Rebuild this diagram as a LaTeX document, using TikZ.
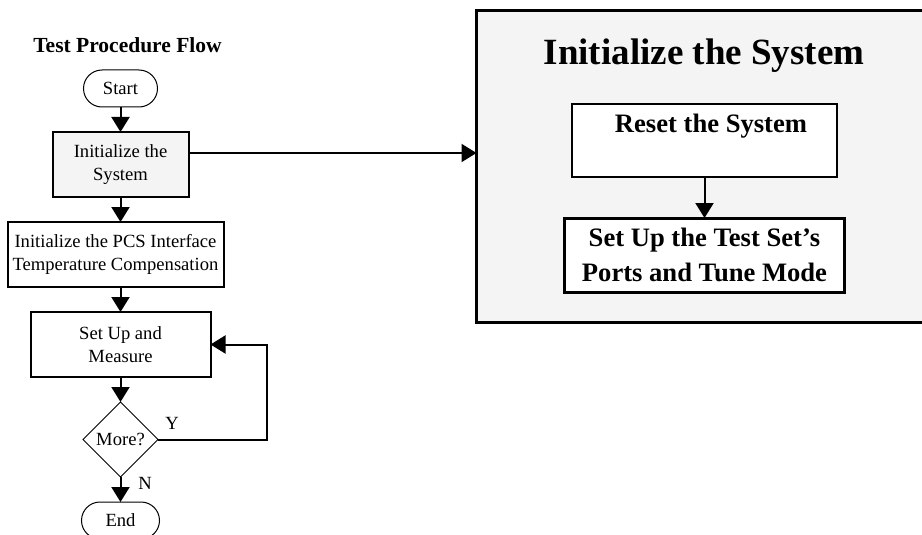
\documentclass[tikz,border=0pt]{standalone}
\usepackage{fontspec}
\setmainfont{Liberation Serif}
\usepackage{tikz}
\usetikzlibrary{arrows.meta, positioning, shapes.geometric, shapes.misc}
\definecolor{panelgray}{RGB}{244,244,244}

\begin{document}
\begin{tikzpicture}[
  x=1pt, y=-1pt,
  node distance=25pt,
  every node/.append style={outer sep=0pt},
  term/.style={draw, line width=1pt, rounded rectangle, minimum width=74pt, minimum height=37pt, inner sep=0pt, font=\fontsize{18.6}{23}\selectfont},
  box/.style={draw, line width=2pt, minimum height=65pt, align=center, inner sep=0pt, font=\fontsize{18.6}{23}\selectfont},
  dec/.style={draw, line width=1pt, diamond, minimum width=75pt, minimum height=75pt, inner sep=0pt, font=\fontsize{18.6}{23}\selectfont},
  inbox/.style={draw, line width=2.5pt, fill=white, align=center, inner sep=0pt, font=\bfseries\fontsize{26.6}{35}\selectfont},
  lbl/.style={inner sep=0pt, font=\fontsize{18.6}{23}\selectfont},
  arr/.style={-{Triangle[length=15pt, width=18pt]}, line width=2pt}
]
\useasboundingbox (0,0) rectangle (922,535);

% left column: the flow
\node[anchor=base, font=\bfseries\fontsize{21.5}{26}\selectfont] (flowtitle) at (127.5,53) {Test Procedure Flow};
\node[term] (start) at (120.5,88.5) {Start};
\node[box, fill=panelgray, minimum width=136pt, below=of start] (init) {Initialize the\\System};
\node[box, minimum width=216pt, below=of init, xshift=-5pt] (pcs) {Initialize the PCS Interface\\Temperature Compensation};
\node[box, minimum width=180pt, below=of pcs, xshift=5pt] (meas) {Set Up and\\Measure};
\node[dec, below=of meas] (more) {More?};
\node[term, minimum width=78pt, below=of more] (end) {End};
\node[lbl] (yes) at (172,423) {Y};
\node[lbl] (no) at (145,483) {N};

% right panel: detail of the init step, open at the page edge
\node[fill=panelgray, minimum width=460pt, minimum height=311.5pt, inner sep=0pt, anchor=north west] (sys) at (476.5,10.5) {};
\draw[line width=3pt] (sys.north east) -- (sys.north west) -- (sys.south west) -- (sys.south east);
\node[anchor=base, font=\bfseries\fontsize{37}{44}\selectfont] (systitle) at (704,65) {Initialize the System};
\node[inbox, minimum width=265pt, minimum height=73pt] (reset) at (704.5,140.5) {};
\node[anchor=base, inner sep=0pt, font=\bfseries\fontsize{26.6}{35}\selectfont] (resettxt) at (711,132) {Reset the System};
\node[inbox, line width=3pt, minimum width=280pt, minimum height=74pt, below=41pt of reset] (tune) {Set Up the Test Set’s\\Ports and Tune Mode};

\draw[arr] (start.south) -- (start.south |- init.north);
\draw[arr] ([yshift=11.5pt]init.east) -- ([yshift=11.5pt]init.east -| sys.west);
\draw[arr] (init.south) -- (init.south |- pcs.north);
\draw[arr] (meas.north |- pcs.south) -- (meas.north);
\draw[arr] (meas.south) -- (more.north);
\draw[arr] (more.south) -- (end.north);
\draw[arr] (more.east) -- ++(109,0) |- (meas.east);
\draw[arr] (reset) -- (tune);

\end{tikzpicture}
\end{document}
